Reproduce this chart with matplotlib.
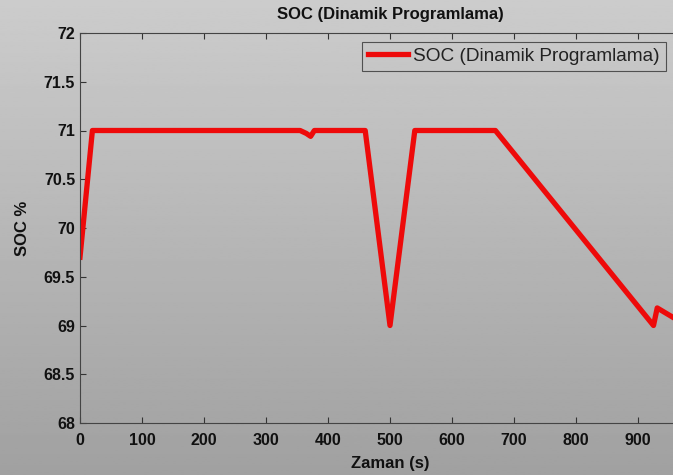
import matplotlib
matplotlib.use("Agg")
import matplotlib.pyplot as plt
import numpy as np

# SOC data
zaman = [0, 20, 355, 365, 372, 378, 460, 500, 540, 670, 925, 931, 960]
soc = [69.7, 71.0, 71.0, 70.97, 70.94, 71.0, 71.0, 69.0, 71.0, 71.0, 69.0, 69.18, 69.07]
xticks = list(range(0, 1000, 100))
yticks = [68, 68.5, 69, 69.5, 70, 70.5, 71, 71.5, 72]
ytick_labels = ['68', '68.5', '69', '69.5', '70', '70.5', '71', '71.5', '72']

plt.rcParams['font.family'] = ['Liberation Sans', 'DejaVu Sans']

fig = plt.figure(figsize=(6.73, 4.75), dpi=100)

# grey gradient background like the screenshot
bg = fig.add_axes([0, 0, 1, 1], zorder=-10)
grad = np.linspace(0.80, 0.63, 256).reshape(-1, 1)
bg.imshow(grad, cmap='gray', vmin=0, vmax=1, aspect='auto', extent=[0, 1, 0, 1])
bg.axis('off')

ax = fig.add_axes([80/673, 52/475, 620/673, 390/475])
ax.patch.set_alpha(0)
ax.plot(zaman, soc, color='#ee0a0a', lw=3.8, label='SOC (Dinamik Programlama)',
        solid_joinstyle='round')
ax.set_xlim(0, 1000)
ax.set_ylim(68, 72)
ax.set_xticks(xticks)
ax.set_yticks(yticks)
ax.set_yticklabels(ytick_labels)
ax.tick_params(direction='in', length=4, labelsize=11.5, colors='#333333',
               labelcolor='#111111', top=True, right=True)
ax.tick_params(axis='x', pad=7)
for lab in ax.get_xticklabels() + ax.get_yticklabels():
    lab.set_fontweight('bold')
for s in ax.spines.values():
    s.set_color('#444444')
ax.set_title('SOC (Dinamik Programlama)', fontsize=12, fontweight='bold', pad=10, color='#111111')
ax.set_xlabel('Zaman (s)', fontsize=12, fontweight='bold', color='#111111', labelpad=6)
ax.set_ylabel('SOC %', fontsize=12, fontweight='bold', color='#111111', labelpad=10)

leg = fig.legend(loc='upper left', bbox_to_anchor=(362/673, 1 - 42/475),
                 fontsize=13.7, frameon=True, fancybox=False, handlelength=2.1,
                 borderpad=0.3, handletextpad=0.3, borderaxespad=0)
leg.get_frame().set_edgecolor('#333333')
leg.get_frame().set_facecolor('none')
leg.get_frame().set_linewidth(0.8)
for t in leg.get_texts():
    t.set_color('#222222')

fig.savefig('out.png', dpi=100)
